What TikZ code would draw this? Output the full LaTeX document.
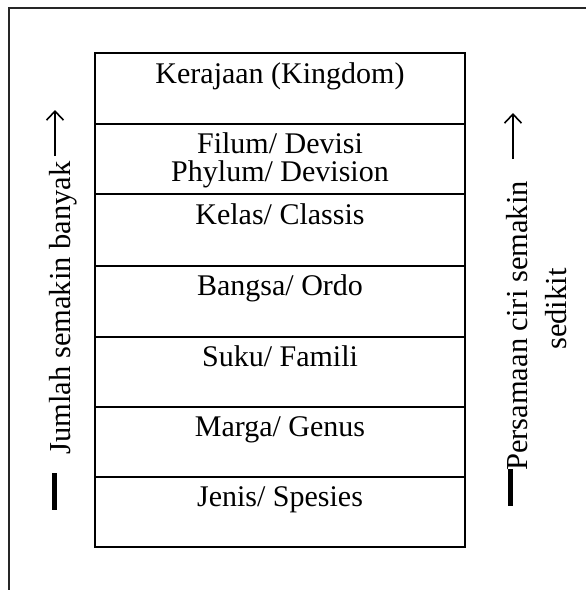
\documentclass[tikz,border=0pt]{standalone}
\usepackage{fontspec}
\setmainfont{Liberation Serif}
\usetikzlibrary{arrows.meta}
\tikzset{
  rank/.style={anchor=base,inner sep=0pt,font=\fontsize{30}{32}\selectfont},
  side/.style={rotate=90,anchor=base,inner sep=0pt,font=\fontsize{30.5}{36}\selectfont},
  upline/.style={-{Straight Barb[length=9pt,width=17pt]},line width=1.6pt},
  stopbar/.style={line width=5pt}
}
\begin{document}
\begin{tikzpicture}[x=1pt,y=-1pt]
  \useasboundingbox (0,0) rectangle (586,590);
  % frame
  \draw[line width=1.8pt,black!85] (586,8) -- (9,8) -- (9,590);
  % table of ranks
  \draw[line width=1.6pt] (95,53) rectangle (465,547);
  \foreach \y in {124,194,266,337,407,477}
    \draw[line width=1.4pt] (95,\y) -- (465,\y);
  \node[rank] (kingdom) at (280,83) {Kerajaan (Kingdom)};
  \node[rank] (filum) at (280,153) {Filum/ Devisi};
  \node[rank] (phylum) at (280,181) {Phylum/ Devision};
  \node[rank] (kelas) at (280,224) {Kelas/ Classis};
  \node[rank] (ordo) at (280,295) {Bangsa/ Ordo};
  \node[rank] (famili) at (280,366) {Suku/ Famili};
  \node[rank] (genus) at (280,436) {Marga/ Genus};
  \node[rank] (spesies) at (280,506) {Jenis/ Spesies};
  % left side
  \node[side] (jumlah) at (70,308) {Jumlah semakin banyak};
  \coordinate (jtail) at (55,156);
  \coordinate (jhead) at (55,110);
  \draw[upline] (jtail) -- (jhead);
  \coordinate (jbar) at (54.5,473);
  \draw[stopbar] (jbar) -- ++(0,37);
  % right side
  \node[side] (ciri) at (527,326) {Persamaan ciri semakin};
  \node[side] (sedikit) at (566,309) {sedikit};
  \coordinate (ptail) at (513,159);
  \coordinate (phead) at (513,113);
  \draw[upline] (ptail) -- (phead);
  \coordinate (pbar) at (510,469);
  \draw[stopbar] (pbar) -- ++(0,37);
\end{tikzpicture}
\end{document}
